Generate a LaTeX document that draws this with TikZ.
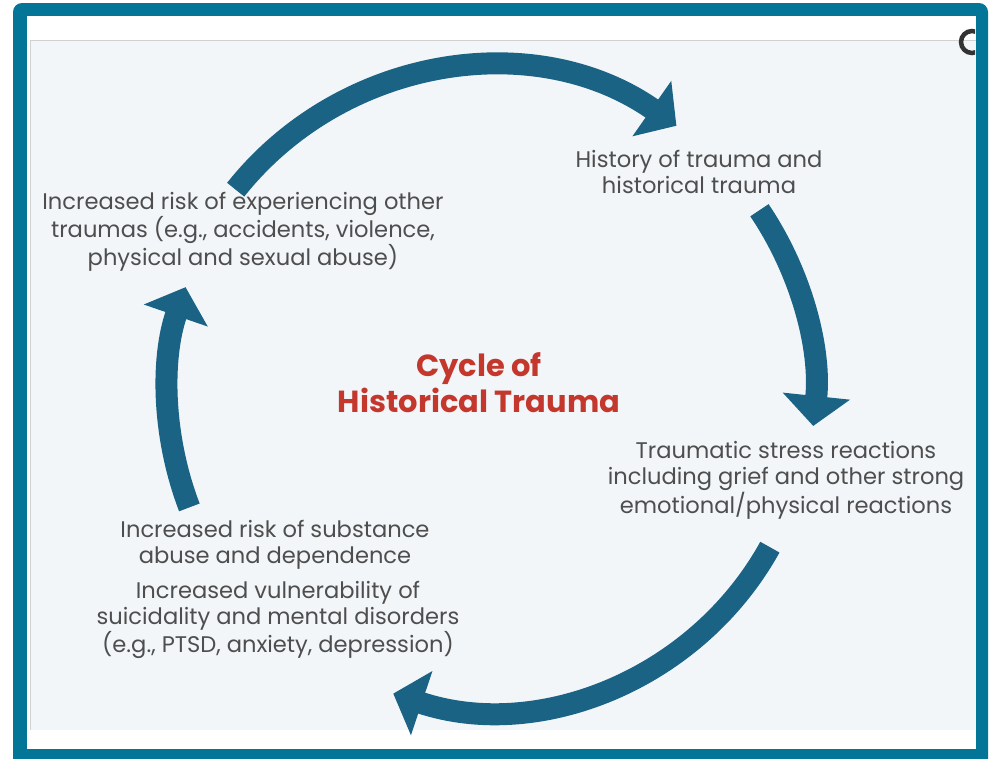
\documentclass[tikz,border=0pt]{standalone}
\usepackage{fontspec}
\setmainfont{Poppins}
\usetikzlibrary{arrows.meta}
\definecolor{frameteal}{RGB}{3,118,152}
\definecolor{cycblue}{RGB}{26,99,132}
\definecolor{panelgray}{RGB}{242,246,249}
\definecolor{labelgray}{RGB}{78,78,78}
\definecolor{titlered}{RGB}{196,55,45}

\begin{document}
\begin{tikzpicture}[x=1pt,y=-1pt,>={Triangle[width=66pt,length=30pt]},
  every node/.style={font=\fontsize{22.6}{26.5}\selectfont,text=labelgray,align=center,inner sep=0pt},
  cyc/.style={draw=cycblue,line width=22pt,->}]
\useasboundingbox (0,0) rectangle (992,758);\clip (0,0) rectangle (992,758);
\fill[frameteal,rounded corners=9pt] (13,3) rectangle (988,775);
\fill[white] (27,16) rectangle (976,749);\fill[panelgray] (30,40) rectangle (976,730);
\draw[black!18,line width=1pt] (30,730)--(30,40)--(976,40);
\begin{scope}\clip (27,16) rectangle (975,749);\draw[black!80,line width=4.5pt] (972,42) circle[radius=11];\end{scope}
\coordinate (o) at (490,392);
\draw[cyc] ([shift={(-141.5:325)}]o) arc[start angle=-141.5,end angle=-55,radius=325];
\draw[cyc] ([shift={(-34:325)}]o) arc[start angle=-34,end angle=6,radius=325];
\draw[cyc] ([shift={(29:320)}]o) arc[start angle=29,end angle=108.5,radius=316];
\draw[cyc] ([shift={(159:322)}]o) arc[start angle=159,end angle=199,radius=322];
\node (hist) at (699,172){History of trauma and\\historical trauma};
\node (stress) at (786,480){Traumatic stress reactions\\including grief and other strong\\emotional/physical reactions};
\node (subst) at (275,545){Increased risk of substance\\abuse and dependence};
\node (vuln) at (278,620){Increased vulnerability of\\suicidality and mental disorders\\(e.g., PTSD, anxiety, depression)};
\node (risk) at (243,232){Increased risk of experiencing other\\traumas (e.g., accidents, violence,\\physical and sexual abuse)};
\node[font=\fontsize{30.5}{36}\selectfont\bfseries,text=titlered] (title) at (479,383){Cycle of\\Historical Trauma};
\end{tikzpicture}
\end{document}
